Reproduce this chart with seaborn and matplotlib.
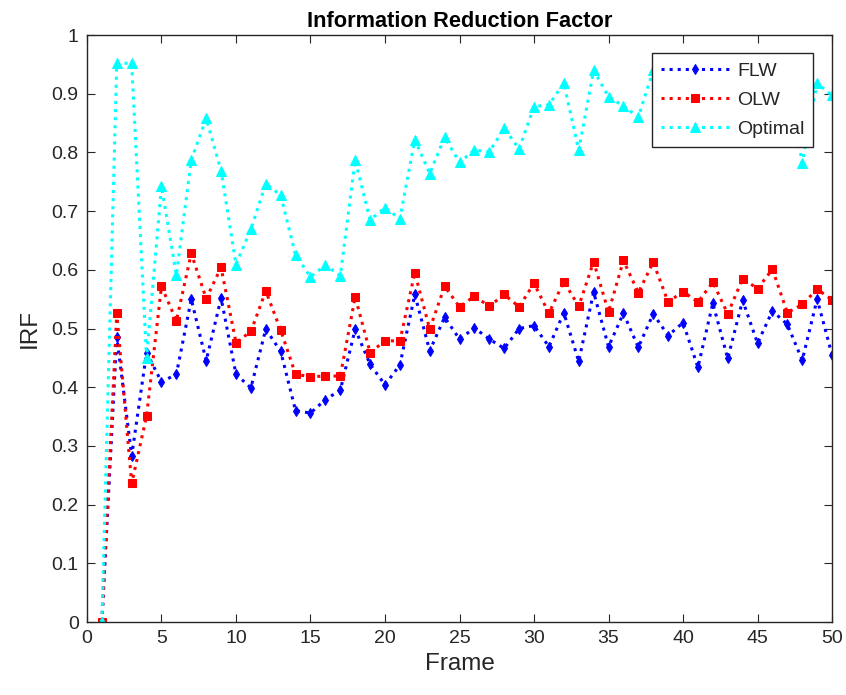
import matplotlib
matplotlib.use("Agg")
import matplotlib.pyplot as plt
import numpy as np
import pandas as pd
import seaborn as sns

frames = list(range(1, 51))

flw = [0.000, 0.486, 0.283, 0.459, 0.409, 0.422, 0.550, 0.445, 0.552, 0.422,
       0.399, 0.499, 0.461, 0.360, 0.356, 0.379, 0.395, 0.499, 0.439, 0.404,
       0.438, 0.558, 0.462, 0.519, 0.482, 0.501, 0.482, 0.466, 0.500, 0.505,
       0.469, 0.527, 0.444, 0.562, 0.469, 0.526, 0.468, 0.525, 0.488, 0.510,
       0.434, 0.543, 0.449, 0.548, 0.475, 0.530, 0.507, 0.446, 0.550, 0.455]

olw = [0.000, 0.526, 0.236, 0.351, 0.572, 0.513, 0.628, 0.551, 0.604, 0.476,
       0.495, 0.564, 0.497, 0.422, 0.418, 0.419, 0.419, 0.554, 0.459, 0.479,
       0.479, 0.595, 0.499, 0.572, 0.537, 0.555, 0.538, 0.558, 0.537, 0.577,
       0.526, 0.580, 0.538, 0.614, 0.528, 0.616, 0.561, 0.613, 0.545, 0.563,
       0.545, 0.579, 0.525, 0.585, 0.568, 0.601, 0.527, 0.541, 0.567, 0.549]

optimal = [0.000, 0.952, 0.952, 0.450, 0.742, 0.591, 0.787, 0.858, 0.769, 0.609,
           0.669, 0.747, 0.727, 0.625, 0.588, 0.608, 0.590, 0.787, 0.685, 0.706,
           0.687, 0.822, 0.764, 0.826, 0.783, 0.804, 0.801, 0.841, 0.806, 0.878,
           0.881, 0.918, 0.804, 0.940, 0.895, 0.879, 0.860, 0.940, 0.900, 0.930,
           0.890, 0.920, 0.950, 0.910, 0.940, 0.900, 0.930, 0.782, 0.918, 0.897]

series_names = ["FLW", "OLW", "Optimal"]
series_colors = ["#0000ff", "#ff0000", "#00ffff"]
series_markers = ["d", "s", "^"]
series_msize = [5.5, 5.5, 6.5]

df = pd.DataFrame({"Frame": frames * 3,
                   "IRF": flw + olw + optimal,
                   "Method": [n for n in series_names for _ in frames]})

sns.set_theme(style="ticks")
plt.rcParams["font.family"] = ["Liberation Sans", "DejaVu Sans"]
edge = "#262626"

fig = plt.figure(figsize=(8.46, 6.95), dpi=100)
ax = fig.add_axes([0.1028, 0.105, 0.8807, 0.8446])

for name, col, mk, ms in zip(series_names, series_colors, series_markers, series_msize):
    sub = df[df["Method"] == name]
    sns.lineplot(data=sub, x="Frame", y="IRF", ax=ax, color=col, linestyle=":",
                 linewidth=2.2, marker=mk, markersize=ms, markeredgecolor=col,
                 markerfacecolor=col, label=name, sort=False, errorbar=None)

ax.set_xlim(0, 50)
ax.set_ylim(0, 1)
ax.set_xticks(np.arange(0, 51, 5))
ax.set_yticks(np.round(np.arange(0, 1.01, 0.1), 1))
ax.set_yticklabels(["0"] + [f"{v:.1f}" for v in np.arange(0.1, 0.95, 0.1)] + ["1"])

for s in ax.spines.values():
    s.set_visible(True)
    s.set_color(edge)
    s.set_linewidth(1.0)
ax.tick_params(direction="in", length=6, width=0.8, colors=edge,
               labelsize=14, top=True, right=True, pad=6)
for lab in ax.get_xticklabels() + ax.get_yticklabels():
    lab.set_color(edge)

ax.set_xlabel("Frame", fontsize=17.5, color=edge, labelpad=4)
ax.set_ylabel("IRF", fontsize=17.5, color=edge, labelpad=8)
ax.set_title("Information Reduction Factor", fontsize=15.7, fontweight="bold",
             color="black", pad=6)

leg = ax.legend(loc="upper right", bbox_to_anchor=(0.9745, 0.969), fontsize=14,
                frameon=True, fancybox=False, framealpha=1.0, edgecolor=edge,
                facecolor="white", handlelength=3.5, labelspacing=0.6,
                borderpad=0.45, handletextpad=0.4, borderaxespad=0.0)
leg.get_frame().set_linewidth(1.0)
leg.set_zorder(10)

fig.savefig("out.png", dpi=100)
